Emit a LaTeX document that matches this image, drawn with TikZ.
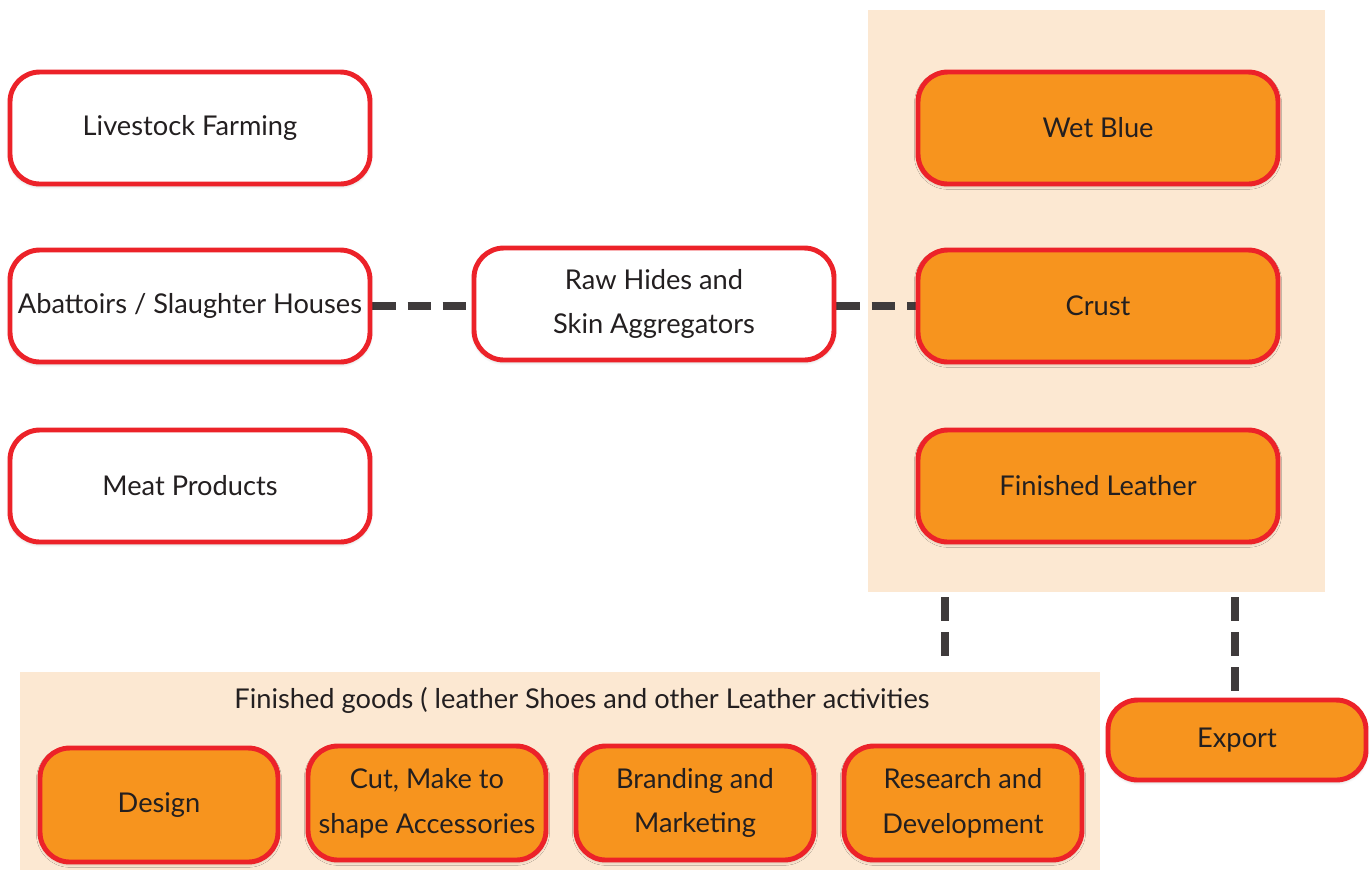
\documentclass[tikz,border=0pt]{standalone}
\usepackage{fontspec}
\setmainfont{Lato}
\usetikzlibrary{backgrounds,shadows.blur}
\definecolor{boxred}{HTML}{EC2229}
\definecolor{boxorange}{HTML}{F7941E}
\definecolor{peach}{HTML}{FCE8D2}
\definecolor{dashgray}{HTML}{3F3B3C}
\definecolor{txt}{HTML}{231F20}

\begin{document}
\begin{tikzpicture}[x=0.02cm,y=-0.02cm,font=\fontsize{15.5}{25.5}\selectfont,text=txt]
	% `stage' is used for the white boxes, `leather' for the orange ones.
	% `zone' is used for the background panels.
	\tikzstyle{stage} = [draw=boxred,fill=white,line width=2.8pt,rounded corners=17pt,
		minimum width=360*0.02cm,minimum height=112*0.02cm,align=center,
		blur shadow={shadow blur steps=6,shadow xshift=0pt,shadow yshift=-1pt,shadow opacity=25}]
	\tikzstyle{leather} = [stage,fill=boxorange]
	\tikzstyle{small} = [leather,minimum width=238*0.02cm,minimum height=114*0.02cm]
	\tikzstyle{zone} = [fill=peach]
	\tikzstyle{link} = [draw=dashgray,line width=5pt,dash pattern=on 13.5pt off 6.5pt]
	%
	\useasboundingbox (0,0) rectangle (1371,870);
	% Left column.
	\node[stage] (farm) at (190,128) {Livestock Farming};
	\node[stage] (abattoir) at (190,306) {Abattoirs / Slaughter Houses};
	\node[stage] (meat) at (190,486) {Meat Products};
	\node[stage] (hides) at (654,304) {Raw Hides and\\Skin Aggregators};
	% Right column.
	\node[leather] (wetblue) at (1098,128) {Wet Blue};
	\node[leather] (crust) at (1098,306) {Crust};
	\node[leather] (finished) at (1098,486) {Finished Leather};
	% Bottom row.
	\node (goods) at (582,700) {Finished goods ( leather Shoes and other Leather activities};
	\node[small] (design) at (159,805) {Design};
	\node[small] (cut) at (427,803) {Cut, Make to\\shape Accessories};
	\node[small] (brand) at (695,803) {Branding and\\Marketing};
	\node[small] (research) at (963,803) {Research and\\Development};
	\node[leather,minimum width=258*0.02cm,minimum height=80*0.02cm] (export) at (1237,740) {Export};
	\begin{pgfonlayer}{background}
		% Draw background panels.
		\node[zone,minimum width=457*0.02cm,minimum height=582*0.02cm] (tannery) at (1096.5,301) {};
		\node[zone,minimum width=1080*0.02cm,minimum height=198*0.02cm] (goodsbox) at (560,771) {};
		% Draw links.
		\draw[link] (abattoir.east) -- (hides.west |- abattoir.east);
		\draw[link] (hides.east |- crust.west) -- (crust.west);
		\coordinate (down1) at (945,597);
		\coordinate (end1) at (945,660);
		\coordinate (down2) at (1235,597);
		\draw[link] (down1) -- (end1);
		\draw[link] (down2) -- (export.north -| down2);
	\end{pgfonlayer}
%
\end{tikzpicture}
\end{document}
